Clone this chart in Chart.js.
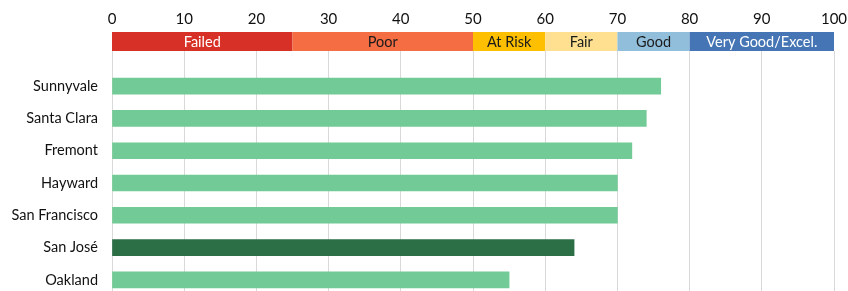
<!DOCTYPE html>
<html>
<head>
<meta charset="utf-8">
<script src="https://cdn.jsdelivr.net/npm/chart.js@4/dist/chart.umd.min.js"></script>
<style>
  html, body { margin: 0; padding: 0; background: #fff; overflow: hidden; }
  canvas { display: block; }
</style>
</head>
<body>
<canvas id="grafico" width="848" height="296"></canvas>
<script>
// Dados do gráfico
const cidades = ['Sunnyvale', 'Santa Clara', 'Fremont', 'Hayward', 'San Francisco', 'San José', 'Oakland'];
const pontuacoes = [76, 74, 72, 70, 70, 64, 55];
const coresBarras = ['#72cb96', '#72cb96', '#72cb96', '#72cb96', '#72cb96', '#2c6e46', '#72cb96'];

// Faixas de classificação por cima do eixo
const faixaNomes = ['Failed', 'Poor', 'At Risk', 'Fair', 'Good', 'Very Good/Excel.'];
const faixaInicio = [0, 25, 50, 60, 70, 80];
const faixaFim = [25, 50, 60, 70, 80, 100];
const faixaCores = ['#d73027', '#f46d43', '#fdbf00', '#fee090', '#91bfdb', '#4575b4'];
const faixaTexto = ['#ffffff', '#1a1a1a', '#1a1a1a', '#1a1a1a', '#1a1a1a', '#ffffff'];

const fonte = 'Lato, "DejaVu Sans", sans-serif';
const alturaFaixa = 19;
const tickLen = 19;

// Plugin que desenha a barra de faixas
const pluginFaixas = {
    id: 'faixas',
    afterDraw(chart) {
        const ctx = chart.ctx;
        const x = chart.scales.x;
        const fundo = chart.chartArea.top - tickLen;
        const topo = fundo - alturaFaixa;
        ctx.save();
        ctx.font = '14.5px ' + fonte;
        ctx.textAlign = 'center';
        ctx.textBaseline = 'middle';
        for (let i = 0; i < faixaNomes.length; i++) {
            const x0 = x.getPixelForValue(faixaInicio[i]);
            const x1 = x.getPixelForValue(faixaFim[i]);
            ctx.fillStyle = faixaCores[i];
            ctx.fillRect(x0, topo, x1 - x0, alturaFaixa);
            ctx.fillStyle = faixaTexto[i];
            ctx.fillText(faixaNomes[i], (x0 + x1) / 2, topo + alturaFaixa / 2 + 1);
        }
        ctx.restore();
    }
};

new Chart(document.getElementById('grafico'), {
    type: 'bar',
    data: {
        labels: cidades,
        datasets: [{
            data: pontuacoes,
            backgroundColor: coresBarras,
            borderWidth: 0,
            barThickness: 16
        }]
    },
    options: {
        indexAxis: 'y',
        responsive: false,
        animation: false,
        layout: { padding: { top: 0, right: 14, left: 0, bottom: 0 } },
        plugins: {
            legend: { display: false },
            tooltip: { enabled: false }
        },
        scales: {
            x: {
                position: 'top',
                min: 0,
                max: 100,
                border: { display: false },
                grid: { color: '#d9d9d9', lineWidth: 1, tickLength: tickLen, tickColor: '#d9d9d9' },
                afterFit(s) {
                    s.height = 70;
                    s.paddingLeft = 0;
                    s.paddingRight = 0;
                },
                ticks: {
                    stepSize: 10,
                    padding: 23,
                    color: '#111',
                    font: { family: fonte, size: 15 },
                    maxRotation: 0
                }
            },
            y: {
                border: { display: false },
                grid: { display: false, drawTicks: false },
                afterFit(s) {
                    s.width = 112;
                    s.paddingTop = 0;
                    s.paddingBottom = 0;
                },
                ticks: {
                    padding: 14,
                    color: '#111',
                    font: { family: fonte, size: 14.5 }
                }
            }
        }
    },
    plugins: [pluginFaixas]
});
</script>
</body>
</html>
